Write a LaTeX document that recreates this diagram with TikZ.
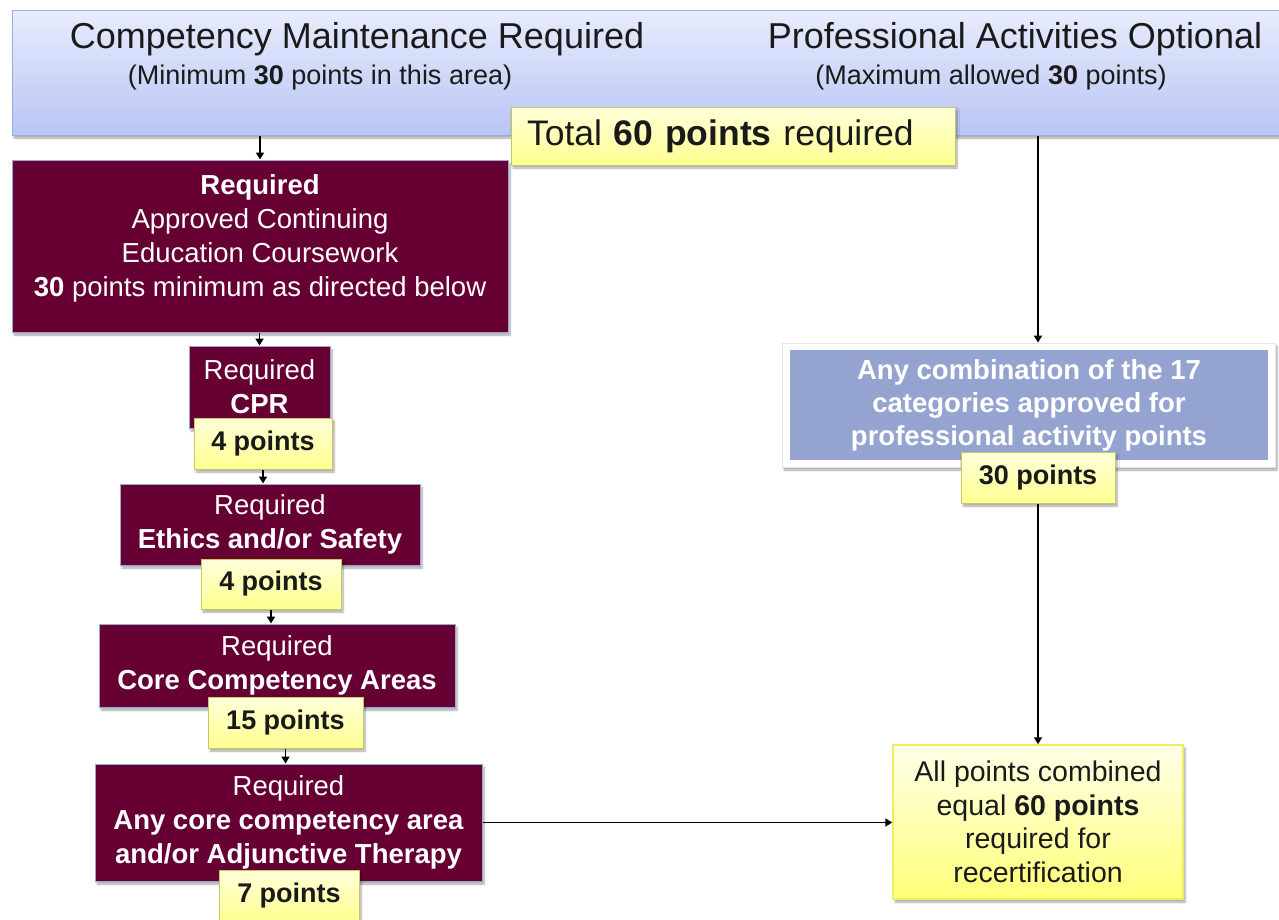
\documentclass[tikz,border=0pt]{standalone}
\usepackage{fontspec}
\setmainfont{Liberation Sans}
\usetikzlibrary{shadows.blur,arrows.meta}
\definecolor{hdrtop}{HTML}{E8ECFC}
\definecolor{hdrbot}{HTML}{B9C5F5}
\definecolor{hdrline}{HTML}{9DABDA}
\definecolor{maroonc}{HTML}{660033}
\definecolor{redline}{HTML}{9AA6D8}
\definecolor{ptstop}{HTML}{FFFFDA}
\definecolor{ptsbot}{HTML}{FFFF90}
\definecolor{ptsline}{HTML}{C8C860}
\definecolor{bluegrey}{HTML}{95A3D0}
\definecolor{frameline}{HTML}{E4E4E4}
\definecolor{fintop}{HTML}{FFFFE8}
\definecolor{finbot}{HTML}{FFFF7A}
\definecolor{finline}{HTML}{F0EC60}
\definecolor{inkc}{HTML}{1A1A1A}
\begin{document}
\begin{tikzpicture}[x=1pt,y=-1pt,
  softshadow/.style={blur shadow={shadow xshift=2pt,shadow yshift=-3pt,shadow blur steps=6,shadow opacity=35}},
  hdrbox/.style={draw=hdrline,line width=1pt,top color=hdrtop,bottom color=hdrbot,inner sep=0pt,softshadow},
  hdrtext/.style={text=inkc,inner sep=0pt},
  redbox/.style={draw=redline,line width=1pt,fill=maroonc,text=white,align=center,inner sep=0pt,font=\fontsize{27.5}{34}\selectfont,softshadow},
  ptsbox/.style={draw=ptsline,line width=1pt,top color=ptstop,bottom color=ptsbot,text=inkc,inner sep=0pt,font=\bfseries\fontsize{27}{34}\selectfont,softshadow},
  arr/.style={-{Triangle[length=7pt,width=8pt]},line width=1.8pt,draw=black}
]
\useasboundingbox (0,0) rectangle (1279,919);

% header
\node[hdrbox,minimum width=1270pt,minimum height=125pt] (top) at (647,72.5) {};
\node[hdrtext,font=\fontsize{36}{42}\selectfont] (t1) at (357,39) {Competency Maintenance Required};
\node[hdrtext,font=\fontsize{27}{30}\selectfont] (t2) at (320,78) {(Minimum \textbf{30} points in this area)};
\node[hdrtext,font=\fontsize{36}{42}\selectfont] (t3) at (1015,39) {Professional Activities Optional};
\node[hdrtext,font=\fontsize{27}{30}\selectfont] (t4) at (991,78) {(Maximum allowed \textbf{30} points)};

% left column
\node[redbox,minimum width=496pt,minimum height=172pt] (b1) at (260,246) {};
\node[text=white,align=center,inner sep=0pt,font=\fontsize{27.5}{34}\selectfont] (b1t) at (260,238)
  {\textbf{Required}\\Approved Continuing\\Education Coursework\\\textbf{30} points minimum as directed below};
\node[redbox,minimum width=141pt,minimum height=82pt] (cpr) at (259.5,387) {Required\\\textbf{CPR}};
\node[redbox,minimum width=300pt,minimum height=81pt] (ethics) at (270,524.5) {Required\\\textbf{Ethics and/or Safety}};
\node[redbox,minimum width=356pt,minimum height=83pt] (core) at (277,665.5) {Required\\\textbf{Core Competency Areas}};
\node[redbox,minimum width=387pt,minimum height=117pt] (any) at (288.5,822.5)
  {Required\\\textbf{Any core competency area}\\\textbf{and/or Adjunctive Therapy}};

% right column
\node[draw=frameline,line width=0.8pt,fill=white,inner sep=0pt,softshadow,
  minimum width=493pt,minimum height=124pt] (frame) at (1028.5,405) {};
\node[fill=bluegrey,text=white,align=center,inner sep=0pt,
  font=\bfseries\fontsize{27.5}{33}\selectfont,minimum width=478pt,minimum height=110pt] (blue) at (1029,405)
  {Any combination of the 17\\categories approved for\\professional activity points};
\node[draw=finline,line width=1.5pt,top color=fintop,bottom color=finbot,text=inkc,align=center,inner sep=0pt,
  font=\fontsize{28.5}{33.5}\selectfont,softshadow,minimum width=290pt,minimum height=154pt] (final) at (1038,822)
  {All points combined\\equal \textbf{60 points}\\required for\\recertification};

% total label
\node[ptsbox,font=\fontsize{35.5}{40}\selectfont,minimum width=444pt,minimum height=58pt,
  text width=412pt,align=left,inner xsep=16pt] (total) at (733,136) {Total \textbf{60 points} required};

% point labels
\node[ptsbox,minimum width=138pt,minimum height=51pt] (p1) at (263,443.5) {4 points};
\node[ptsbox,minimum width=140pt,minimum height=50pt] (p2) at (271,584) {4 points};
\node[ptsbox,minimum width=155pt,minimum height=51pt] (p3) at (285.5,722.5) {15 points};
\node[ptsbox,minimum width=140pt,minimum height=52pt] (p4) at (289,896) {7 points};
\node[ptsbox,minimum width=154pt,minimum height=51pt] (p30) at (1038,477.5) {30 points};

% connectors
\draw[arr] (b1.north |- top.south) -- (b1.north);
\draw[arr] (cpr.north |- b1.south) -- (cpr.north);
\draw[arr] (p1.south) -- (p1.south |- ethics.north);
\draw[arr] (p2.south) -- (p2.south |- core.north);
\draw[arr] (p3.south) -- (p3.south |- any.north);
\draw[arr] (p30.north |- top.south) -- (p30.north |- frame.north);
\draw[arr] (p30.south) -- (final.north);
\draw[arr] (any.east) -- (any.east -| final.west);
\end{tikzpicture}
\end{document}
